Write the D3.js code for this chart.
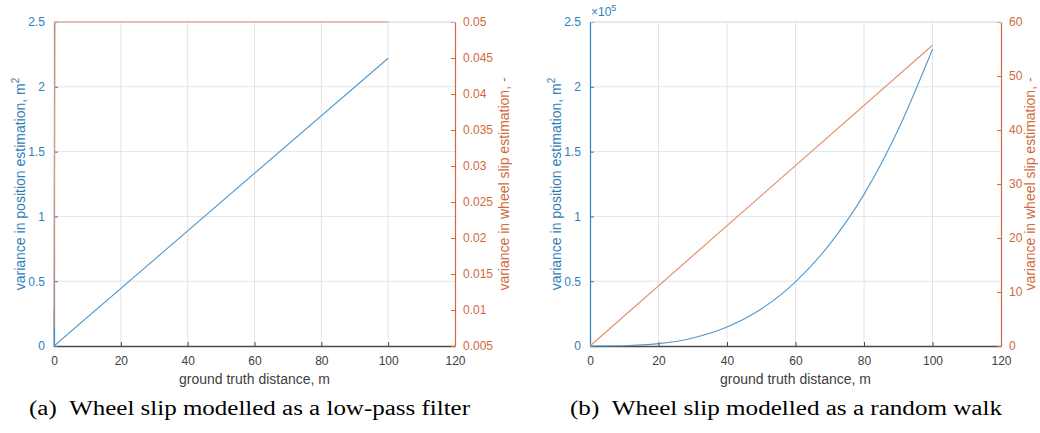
<!DOCTYPE html>
<html><head><meta charset="utf-8">
<script src="https://cdn.jsdelivr.net/npm/d3@7"></script>
<style>
html,body{margin:0;padding:0;background:#fff;}
svg{display:block;}
</style></head>
<body>
<svg id="chart" width="1040" height="433"></svg>
<script>
// ---- data ----
const xTicks = [0, 20, 40, 60, 80, 100, 120];
const posTicks = [0, 0.5, 1, 1.5, 2, 2.5];

// (a) low-pass filter
const lpPosDist = [0, 0, 100];
const lpPosVar = [0.28, 0, 2.22];
const lpSlipDist = [0, 0.25, 100];
const lpSlipVar = [0.0075, 0.05, 0.05];
const lpSlipTicks = [0.005, 0.01, 0.015, 0.02, 0.025, 0.03, 0.035, 0.04, 0.045, 0.05];
const lpSlipTickLabels = ["0.005","0.01","0.015","0.02","0.025","0.03","0.035","0.04","0.045","0.05"];

// (b) random walk (position variance in units of 1e5)
const rwPosDist = [0, 10, 20, 30, 40, 50, 60, 70, 80, 90, 100];
const rwPosVar = [0, 0.0023, 0.018, 0.062, 0.147, 0.286, 0.495, 0.786, 1.17, 1.67, 2.29];
const rwSlipDist = [0, 100];
const rwSlipVar = [0, 55.7];
const rwSlipTicks = [0, 10, 20, 30, 40, 50, 60];

const captions = ["(a)\u2002Wheel slip modelled as a low-pass filter", "(b)\u2002Wheel slip modelled as a random walk"];

// ---- style ----
const SANS = "'Liberation Sans', Arial, Helvetica, sans-serif";
const SERIF = "'Liberation Serif', 'DejaVu Serif', serif";
const BLUE_AX = "#2f80ba", ORANGE_AX = "#d06a3c";
const BLUE_LN = "#5399cc", ORANGE_LN = "#e09470";
const svg = d3.select("#chart");

function panel(o) {
  const g = svg.append("g").style("font-family", SANS);
  const x = d3.scaleLinear().domain([0, 120]).range([o.left, o.right]);
  const yL = d3.scaleLinear().domain([0, 2.5]).range([o.bottom, o.top]);
  const yR = d3.scaleLinear().domain(o.rDomain).range([o.bottom, o.top]);

  // grid
  g.append("g").selectAll("line").data(xTicks.slice(1, -1)).join("line")
    .attr("x1", d => x(d)).attr("x2", d => x(d)).attr("y1", o.top).attr("y2", o.bottom)
    .attr("stroke", "#e4e4e4").attr("stroke-width", 1);
  g.append("g").selectAll("line").data(posTicks.slice(1)).join("line")
    .attr("x1", o.left).attr("x2", o.right).attr("y1", d => yL(d)).attr("y2", d => yL(d))
    .attr("stroke", "#dae7f2").attr("stroke-width", 1);

  // clip
  const cid = "clip" + o.id;
  svg.append("clipPath").attr("id", cid).append("rect")
    .attr("x", o.left - 1).attr("y", o.top - 1).attr("width", o.right - o.left + 2).attr("height", o.bottom - o.top + 2);

  // x axis (bottom) with inward ticks
  const xa = g.append("g").attr("transform", `translate(0,${o.bottom})`)
    .call(d3.axisBottom(x).tickValues(xTicks).tickSizeInner(-4).tickSizeOuter(0).tickPadding(10));
  xa.select(".domain").attr("stroke", "#4a4a4a").attr("stroke-width", 1.3);
  xa.selectAll(".tick line").attr("stroke", "#4a4a4a");
  xa.selectAll(".tick text").attr("fill", "#404040").style("font-size", "12px").style("font-family", SANS);

  // left axis
  const la = g.append("g").attr("transform", `translate(${o.left},0)`)
    .call(d3.axisLeft(yL).tickValues(posTicks).tickFormat(d3.format("")).tickSizeInner(-4).tickSizeOuter(0).tickPadding(9));
  la.select(".domain").attr("stroke", BLUE_AX).attr("stroke-width", 1.2);
  la.selectAll(".tick line").attr("stroke", BLUE_AX);
  la.selectAll(".tick text").attr("fill", BLUE_AX).style("font-size", "12px").style("font-family", SANS);

  // right axis
  const ra = g.append("g").attr("transform", `translate(${o.right},0)`)
    .call(d3.axisRight(yR).tickValues(o.rTicks).tickFormat((d, i) => o.rLabels[i]).tickSizeInner(-4).tickSizeOuter(0).tickPadding(8));
  ra.select(".domain").attr("stroke", ORANGE_AX).attr("stroke-width", 1.2);
  ra.selectAll(".tick line").attr("stroke", ORANGE_AX);
  ra.selectAll(".tick text").attr("fill", ORANGE_AX).style("font-size", "12px").style("font-family", SANS);

  // top box line
  g.append("line").attr("x1", o.left).attr("x2", o.right).attr("y1", o.top).attr("y2", o.top)
    .attr("stroke", "#d8e4ee").attr("stroke-width", 1);

  // series
  const lines = g.append("g").attr("clip-path", `url(#${cid})`);
  const posPts = o.posDist.map((d, i) => [d, o.posVar[i]]);
  const slipPts = o.slipDist.map((d, i) => [d, o.slipVar[i]]);
  lines.append("path").datum(posPts)
    .attr("d", d3.line().x(d => x(d[0])).y(d => yL(d[1])).curve(o.curve))
    .attr("fill", "none").attr("stroke", BLUE_LN).attr("stroke-width", 1.1);
  lines.append("path").datum(slipPts)
    .attr("d", d3.line().x(d => x(d[0])).y(d => yR(d[1])))
    .attr("fill", "none").attr("stroke", ORANGE_LN).attr("stroke-width", 1.2);

  // labels
  g.append("text").attr("x", (o.left + o.right) / 2).attr("y", o.bottom + 38)
    .attr("text-anchor", "middle").style("font-size", "14px").attr("fill", "#404040")
    .text("ground truth distance, m");
  const ly = g.append("text").attr("transform", `translate(${o.lLabelX},${(o.top + o.bottom) / 2}) rotate(-90)`)
    .attr("text-anchor", "middle").style("font-size", "14px").attr("fill", BLUE_AX);
  ly.append("tspan").text("variance in position estimation, m");
  ly.append("tspan").attr("dy", -6).style("font-size", "10px").text("2");
  g.append("text").attr("transform", `translate(${o.rLabelX},${(o.top + o.bottom) / 2}) rotate(-90)`)
    .attr("text-anchor", "middle").style("font-size", "14px").attr("fill", ORANGE_AX)
    .text("variance in wheel slip estimation, -");

  if (o.exp) {
    const t = g.append("text").attr("x", o.left + 1).attr("y", o.top - 6).style("font-size", "12px").attr("fill", BLUE_AX);
    t.append("tspan").text("\u00d710");
    t.append("tspan").attr("dy", -5).style("font-size", "9px").text("5");
  }

  // caption
  g.append("text").attr("x", o.capX).attr("y", 415)
    .style("font-family", SERIF).style("font-size", "20px").attr("fill", "#000")
    .attr("textLength", o.capW).attr("lengthAdjust", "spacingAndGlyphs")
    .text(o.caption);
}

panel({id: "a", left: 54, right: 455, top: 22, bottom: 346, rDomain: [0.005, 0.05],
  rTicks: lpSlipTicks, rLabels: lpSlipTickLabels,
  posDist: lpPosDist, posVar: lpPosVar, slipDist: lpSlipDist, slipVar: lpSlipVar,
  curve: d3.curveLinear, lLabelX: 25, rLabelX: 509, exp: false,
  caption: captions[0], capX: 29, capW: 441});

panel({id: "b", left: 590, right: 1001, top: 22, bottom: 346, rDomain: [0, 60],
  rTicks: rwSlipTicks, rLabels: rwSlipTicks.map(String),
  posDist: rwPosDist, posVar: rwPosVar, slipDist: rwSlipDist, slipVar: rwSlipVar,
  curve: d3.curveMonotoneX, lLabelX: 561, rLabelX: 1035, exp: true,
  caption: captions[1], capX: 570, capW: 432});
</script>
</body></html>
